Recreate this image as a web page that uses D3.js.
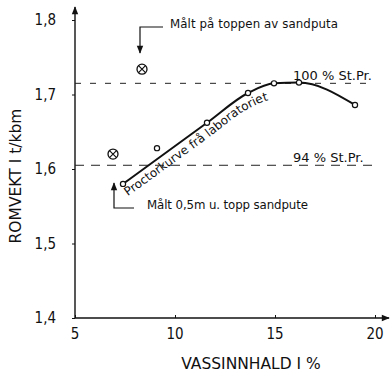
<!DOCTYPE html>
<html>
<head>
<meta charset="utf-8">
<script src="https://cdn.jsdelivr.net/npm/d3@7"></script>
<style>
  body { margin: 0; background: #fff; }
  svg { display: block; }
  text { fill: #111; }
  .tick-lbl { font-family: "Liberation Sans Narrow", "DejaVu Sans Condensed", sans-serif; font-size: 15px; }
  .note { font-family: "DejaVu Sans", sans-serif; font-size: 11.8px; }
  .axis-title { font-family: "DejaVu Sans", sans-serif; font-size: 15.5px; }
</style>
</head>
<body>
<div id="chart"></div>
<script>
// Proctor curve (laboratory)
const curveWater = [7.4, 11.6, 13.65, 14.95, 16.2, 19.0];
const curveDensity = [1.580, 1.662, 1.702, 1.715, 1.716, 1.686];
// single open point off the curve
const extraWater = [9.1];
const extraDensity = [1.628];
// field measurements (crossed circles)
const fieldWater = [6.9, 8.35];
const fieldDensity = [1.620, 1.734];
// reference levels
const refLabels = ['100 % St.Pr.', '94 % St.Pr.'];
const refValues = [1.715, 1.605];
const xTicks = [5, 10, 15, 20];
const yTicks = [1.4, 1.5, 1.6, 1.7, 1.8];

const W = 391, H = 372;
const svg = d3.select('#chart').append('svg').attr('width', W).attr('height', H);

const x = d3.scaleLinear().domain([5, 20]).range([75, 375]);
const y = d3.scaleLinear().domain([1.4, 1.8]).range([318, 20]);

const defs = svg.append('defs');
defs.append('marker')
  .attr('id', 'arr').attr('viewBox', '0 0 10 10').attr('refX', 9).attr('refY', 5)
  .attr('markerWidth', 10).attr('markerHeight', 8).attr('markerUnits', 'userSpaceOnUse')
  .attr('orient', 'auto')
  .append('path').attr('d', 'M0,1 L10,5 L0,9 Z').attr('fill', '#111');

// axes
const xAxis = svg.append('g').attr('transform', `translate(0,${y(1.4)})`)
  .call(d3.axisBottom(x).tickValues(xTicks).tickSize(-3).tickFormat(''));
xAxis.select('.domain').remove();
const yAxis = svg.append('g').attr('transform', `translate(${x(5)},0)`)
  .call(d3.axisLeft(y).tickValues(yTicks).tickSize(3).tickFormat(''));
yAxis.select('.domain').remove();
svg.selectAll('.tick line').attr('stroke', '#111').attr('stroke-width', 1);

svg.append('line').attr('x1', x(5)).attr('y1', y(1.4)).attr('x2', 389).attr('y2', y(1.4))
  .attr('stroke', '#111').attr('stroke-width', 1.4).attr('marker-end', 'url(#arr)');
svg.append('line').attr('x1', x(5)).attr('y1', y(1.4)).attr('x2', x(5)).attr('y2', 7)
  .attr('stroke', '#111').attr('stroke-width', 1.4).attr('marker-end', 'url(#arr)');

svg.selectAll('.xl').data(xTicks).join('text').attr('class', 'tick-lbl')
  .attr('x', d => x(d)).attr('y', 339).attr('text-anchor', 'middle').text(d => d);
svg.selectAll('.yl').data(yTicks).join('text').attr('class', 'tick-lbl')
  .attr('x', 56).attr('y', d => y(d) + 5).attr('text-anchor', 'end')
  .text(d => d3.format('.1f')(d).replace('.', ','));

svg.append('text').attr('class', 'axis-title').attr('x', 251).attr('y', 369)
  .attr('text-anchor', 'middle').text('VASSINNHALD I %');
svg.append('text').attr('class', 'axis-title').attr('transform', 'translate(21,176) rotate(-90)')
  .attr('text-anchor', 'middle').text('ROMVEKT I  t/kbm');

// reference lines
svg.selectAll('.ref').data(refValues).join('line')
  .attr('x1', x(5)).attr('x2', 373).attr('y1', d => y(d)).attr('y2', d => y(d))
  .attr('stroke', '#222').attr('stroke-width', 1)
  .attr('stroke-dasharray', (d, i) => i === 0 ? '6,9' : '9,7');
svg.selectAll('.refl').data(refValues).join('text').attr('class', 'note')
  .attr('x', 293).attr('y', d => y(d) - 3).style('font-size', '13px')
  .text((d, i) => refLabels[i]);

// proctor curve
const pts = curveWater.map((w, i) => [w, curveDensity[i]]);
const line = d3.line().x(d => x(d[0])).y(d => y(d[1])).curve(d3.curveMonotoneX);
svg.append('path').attr('d', line(pts))
  .attr('fill', 'none').attr('stroke', '#111').attr('stroke-width', 2);

// label runs just under the curve: same curve, shifted a few px down
const labelLine = d3.line().x(d => x(d[0])).y(d => y(d[1]) + 16).curve(d3.curveMonotoneX);
defs.append('path').attr('id', 'proctorLbl').attr('d', labelLine(pts));
svg.append('text').attr('class', 'note').style('font-size', '12px')
  .append('textPath').attr('href', '#proctorLbl').attr('startOffset', 6)
  .text('Proctorkurve frå laboratoriet');

svg.selectAll('.cp').data(pts.concat(extraWater.map((w, i) => [w, extraDensity[i]]))).join('circle')
  .attr('cx', d => x(d[0])).attr('cy', d => y(d[1])).attr('r', 2.6)
  .attr('fill', '#fff').attr('stroke', '#111').attr('stroke-width', 1.2);

// field points
const fp = svg.selectAll('.fp').data(fieldWater.map((w, i) => [w, fieldDensity[i]])).join('g')
  .attr('transform', d => `translate(${x(d[0])},${y(d[1])})`);
fp.append('circle').attr('r', 5).attr('fill', '#fff').attr('stroke', '#111').attr('stroke-width', 1.3);
fp.append('path').attr('d', 'M-3.5,-3.5L3.5,3.5M-3.5,3.5L3.5,-3.5').attr('stroke', '#111').attr('stroke-width', 1.2);

// annotations
svg.append('path').attr('d', 'M163,27 H140 V53').attr('fill', 'none')
  .attr('stroke', '#111').attr('stroke-width', 1.2).attr('marker-end', 'url(#arr)');
svg.append('text').attr('class', 'note').attr('x', 170).attr('y', 28)
  .attr('textLength', 168).text('Målt på toppen av sandputa');
svg.append('path').attr('d', 'M134,208 H114 V183').attr('fill', 'none')
  .attr('stroke', '#111').attr('stroke-width', 1.2).attr('marker-end', 'url(#arr)');
svg.append('text').attr('class', 'note').attr('x', 147).attr('y', 209)
  .attr('textLength', 161).text('Målt 0,5m u. topp sandpute');
</script>
</body>
</html>
